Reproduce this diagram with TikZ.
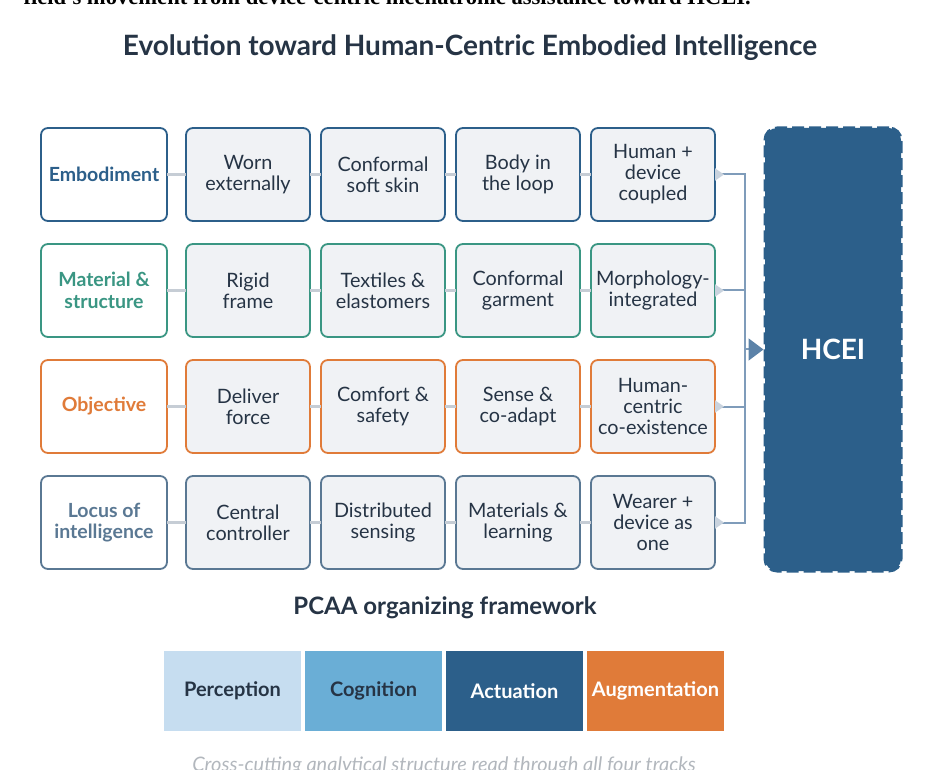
\documentclass[tikz,border=0pt]{standalone}
\usepackage{fontspec}
\setmainfont{Lato}
\newfontfamily\leadserif{Liberation Serif}
\usepackage{xcolor}
\usetikzlibrary{positioning,arrows.meta,calc}

\definecolor{ink}{HTML}{263445}
\definecolor{cellbg}{HTML}{F0F2F5}
\definecolor{emb}{HTML}{2C5F8A}
\definecolor{mat}{HTML}{3A9683}
\definecolor{obj}{HTML}{E07B39}
\definecolor{loc}{HTML}{5A7893}
\definecolor{linkgray}{HTML}{C6CDD5}
\definecolor{busblue}{HTML}{7F9CBA}
\definecolor{tipgray}{HTML}{C9D3DE}
\definecolor{arrblue}{HTML}{5B82A8}
\definecolor{perc}{HTML}{C6DDF0}
\definecolor{cogn}{HTML}{6AAED6}
\definecolor{notegray}{HTML}{B2B7BD}

\tikzset{
  track/.style={draw=#1, rounded corners=7pt, line width=1.8pt, align=center,
    minimum height=93pt, inner sep=2pt, outer sep=0pt},
  tracklab/.style={track=#1, fill=white, text=#1, minimum width=126pt,
    font=\bfseries\fontsize{19.5}{21.5}\selectfont},
  cell/.style={track=#1, fill=cellbg, text=ink, minimum width=124pt,
    font=\fontsize{19.8}{21}\selectfont},
  link/.style={draw=linkgray, line width=2.5pt},
  bus/.style={draw=busblue, line width=2pt},
  ptip/.tip={Triangle[reversed, length=9pt, width=12pt, color=tipgray]},
  hceibox/.style={fill=emb, draw=emb, dashed, dash pattern=on 12pt off 5pt,
    line width=3pt, rounded corners=12pt, minimum width=136pt,
    minimum height=443pt, text=white, font=\bfseries\fontsize{28}{32}\selectfont},
  pcaa/.style={minimum width=137pt, minimum height=80pt, inner sep=0pt,
    outer sep=0pt, font=\bfseries\fontsize{20}{22}\selectfont},
  heading/.style={text=ink, font=\bfseries\fontsize{#1}{#1}\selectfont}
}

\begin{document}
\begin{tikzpicture}[node distance=23pt and 11pt]
    \useasboundingbox (0pt,0pt) rectangle (930pt,-770pt);

    % ---------- Headings ----------
    \node[anchor=base west, text=black,
      font=\leadserif\bfseries\fontsize{22.6}{26}\selectfont] (lead) at (20pt,-5pt)
      {field's movement from device-centric mechatronic assistance toward HCEI.};
    \node[heading=28] (title) at (470pt,-48pt)
      {Evolution toward Human-Centric Embodied Intelligence};

    % ---------- Track labels (left column) ----------
    \node[tracklab=emb] (r1l) at (104pt,-174.5pt) {Embodiment};
    \node[tracklab=mat, below=of r1l] (r2l) {Material \&\\structure};
    \node[tracklab=obj, below=of r2l] (r3l) {Objective};
    \node[tracklab=loc, below=of r3l] (r4l) {Locus of\\intelligence};

    % ---------- Embodiment ----------
    \node[cell=emb, right=19pt of r1l] (r1c1) {Worn\\externally};
    \node[cell=emb, right=of r1c1]     (r1c2) {Conformal\\soft skin};
    \node[cell=emb, right=of r1c2]     (r1c3) {Body in\\the loop};
    \node[cell=emb, right=of r1c3]     (r1c4) {Human +\\device\\coupled};

    % ---------- Material & structure ----------
    \node[cell=mat, right=19pt of r2l] (r2c1) {Rigid\\frame};
    \node[cell=mat, right=of r2c1]     (r2c2) {Textiles \&\\elastomers};
    \node[cell=mat, right=of r2c2]     (r2c3) {Conformal\\garment};
    \node[cell=mat, right=of r2c3]     (r2c4) {Morphology-\\integrated};

    % ---------- Objective ----------
    \node[cell=obj, right=19pt of r3l] (r3c1) {Deliver\\force};
    \node[cell=obj, right=of r3c1]     (r3c2) {Comfort \&\\safety};
    \node[cell=obj, right=of r3c2]     (r3c3) {Sense \&\\co-adapt};
    \node[cell=obj, right=of r3c3]     (r3c4) {Human-\\centric\\co-existence};

    % ---------- Locus of intelligence ----------
    \node[cell=loc, right=19pt of r4l] (r4c1) {Central\\controller};
    \node[cell=loc, right=of r4c1]     (r4c2) {Distributed\\sensing};
    \node[cell=loc, right=of r4c2]     (r4c3) {Materials \&\\learning};
    \node[cell=loc, right=of r4c3]     (r4c4) {Wearer +\\device as\\one};

    % links along each track
    \draw[link] (r1l) -- (r1c1) (r1c1) -- (r1c2) (r1c2) -- (r1c3) (r1c3) -- (r1c4);
    \draw[link] (r2l) -- (r2c1) (r2c1) -- (r2c2) (r2c2) -- (r2c3) (r2c3) -- (r2c4);
    \draw[link] (r3l) -- (r3c1) (r3c1) -- (r3c2) (r3c2) -- (r3c3) (r3c3) -- (r3c4);
    \draw[link] (r4l) -- (r4c1) (r4c1) -- (r4c2) (r4c2) -- (r4c3) (r4c3) -- (r4c4);

    % ---------- HCEI target ----------
    \node[hceibox] (hcei) at (833pt,-349.5pt) {HCEI};
    \coordinate (bus) at (745pt,-349.5pt);

    \draw[bus, ptip-ptip] (r1c4.east) -- (r1c4.east -| bus)
      -- (r4c4.east -| bus) -- (r4c4.east);
    \draw[bus, ptip-] (r2c4.east) -- (r2c4.east -| bus);
    \draw[bus, ptip-] (r3c4.east) -- (r3c4.east -| bus);
    \draw[bus, -{Triangle[length=15pt, width=22pt, color=arrblue]}]
      (bus) -- (hcei.west);

    % ---------- PCAA framework ----------
    \node[heading=24] (pcaahead) at (445pt,-608pt) {PCAA organizing framework};
    \node[pcaa, fill=perc, text=ink] (perc) at (232.5pt,-691pt) {Perception};
    \node[pcaa, fill=cogn, text=ink, right=4pt of perc] (cogn) {Cognition};
    \node[pcaa, fill=emb, text=white, right=4pt of cogn] (actu) {Actuation};
    \node[pcaa, fill=obj, text=white, right=4pt of actu] (augm) {Augmentation};

    \node[anchor=base, text=notegray, font=\itshape\fontsize{20}{22}\selectfont]
      (note) at (444pt,-771pt)
      {Cross-cutting analytical structure read through all four tracks};

\end{tikzpicture}
\end{document}
